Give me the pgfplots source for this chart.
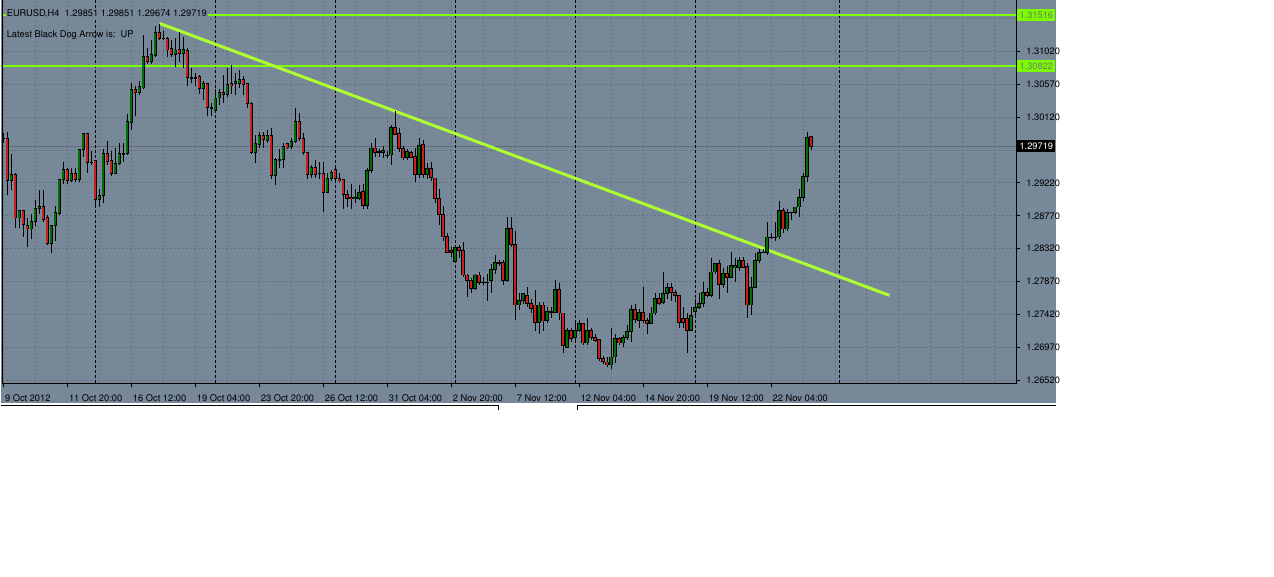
\documentclass[border=0pt]{standalone}
\usepackage[T1]{fontenc}
\usepackage{helvet}
\renewcommand{\familydefault}{\sfdefault}
\usepackage{pgfplots}
\pgfplotsset{compat=1.18}
\usepackage{pgfplotstable}

\definecolor{bgc}{RGB}{119,136,153}
\definecolor{gridc}{RGB}{98,112,127}
\definecolor{bidc}{RGB}{96,106,120}
\definecolor{upc}{RGB}{0,110,0}
\definecolor{dnc}{RGB}{200,30,30}
\definecolor{hlc}{RGB}{124,252,0}
\definecolor{trendc}{RGB}{173,255,47}
\definecolor{tagtext}{RGB}{110,125,105}

\newcommand\tl{\fontsize{9.3}{11}\selectfont}

% EURUSD H4, k = bar index; bull candles (close >= open)
\pgfplotstableread{
k o h l c
0 1.2983 1.2990 1.2976 1.2983
2 1.2925 1.2961 1.2912 1.2934
4 1.2874 1.2884 1.2860 1.2884
7 1.2859 1.2880 1.2846 1.2869
8 1.2869 1.2899 1.2863 1.2887
9 1.2887 1.2913 1.2880 1.2890
12 1.2839 1.2864 1.2826 1.2864
13 1.2864 1.2891 1.2843 1.2882
14 1.2880 1.2927 1.2878 1.2927
15 1.2927 1.2951 1.2921 1.2940
17 1.2925 1.2943 1.2923 1.2935
19 1.2927 1.2969 1.2923 1.2968
20 1.2968 1.2990 1.2957 1.2990
22 1.2950 1.2966 1.2946 1.2950
24 1.2899 1.2914 1.2889 1.2905
25 1.2905 1.2969 1.2895 1.2962
28 1.2935 1.2970 1.2934 1.2949
29 1.2949 1.2976 1.2946 1.2962
30 1.2962 1.2977 1.2951 1.2962
31 1.2962 1.3017 1.2960 1.3006
32 1.3005 1.3059 1.2994 1.3050
34 1.3046 1.3061 1.3042 1.3054
35 1.3052 1.3124 1.3051 1.3095
37 1.3088 1.3117 1.3085 1.3098
38 1.3096 1.3137 1.3094 1.3128
40 1.3120 1.3130 1.3117 1.3120
43 1.3098 1.3120 1.3081 1.3104
45 1.3099 1.3121 1.3079 1.3104
47 1.3066 1.3079 1.3059 1.3066
48 1.3066 1.3073 1.3055 1.3066
50 1.3051 1.3062 1.3035 1.3058
53 1.3021 1.3051 1.3018 1.3038
54 1.3038 1.3051 1.3028 1.3046
56 1.3043 1.3079 1.3039 1.3057
58 1.3058 1.3072 1.3042 1.3061
59 1.3058 1.3076 1.3052 1.3063
63 1.2964 1.2987 1.2950 1.2976
64 1.2975 1.2991 1.2970 1.2987
66 1.2980 1.2994 1.2976 1.2987
68 1.2932 1.2956 1.2919 1.2954
69 1.2954 1.2969 1.2942 1.2954
70 1.2954 1.2976 1.2942 1.2972
72 1.2972 1.2983 1.2968 1.2979
73 1.2979 1.3024 1.2977 1.3006
77 1.2934 1.2946 1.2929 1.2943
79 1.2935 1.2950 1.2928 1.2935
81 1.2909 1.2936 1.2908 1.2928
82 1.2928 1.2939 1.2925 1.2936
88 1.2900 1.2914 1.2895 1.2902
89 1.2901 1.2919 1.2898 1.2909
91 1.2891 1.2943 1.2887 1.2939
92 1.2939 1.2976 1.2936 1.2970
95 1.2964 1.2973 1.2956 1.2966
96 1.2960 1.2966 1.2956 1.2960
97 1.2960 1.3001 1.2946 1.2998
101 1.2957 1.2969 1.2953 1.2965
104 1.2934 1.2983 1.2929 1.2973
106 1.2934 1.2949 1.2928 1.2942
113 1.2815 1.2834 1.2813 1.2834
118 1.2778 1.2798 1.2775 1.2796
120 1.2786 1.2793 1.2782 1.2786
121 1.2786 1.2798 1.2761 1.2786
122 1.2789 1.2811 1.2772 1.2804
123 1.2804 1.2824 1.2798 1.2813
124 1.2813 1.2816 1.2809 1.2813
126 1.2789 1.2875 1.2786 1.2860
129 1.2755 1.2772 1.2748 1.2761
130 1.2761 1.2772 1.2757 1.2771
134 1.2731 1.2759 1.2716 1.2755
136 1.2734 1.2752 1.2731 1.2746
137 1.2746 1.2752 1.2738 1.2746
138 1.2745 1.2789 1.2744 1.2776
141 1.2697 1.2724 1.2696 1.2720
143 1.2711 1.2731 1.2707 1.2720
144 1.2720 1.2734 1.2718 1.2730
146 1.2703 1.2737 1.2700 1.2720
152 1.2673 1.2724 1.2668 1.2684
153 1.2684 1.2716 1.2675 1.2709
155 1.2703 1.2714 1.2697 1.2711
156 1.2711 1.2727 1.2707 1.2719
157 1.2719 1.2755 1.2704 1.2749
159 1.2734 1.2750 1.2724 1.2745
162 1.2730 1.2752 1.2730 1.2744
163 1.2744 1.2772 1.2741 1.2764
165 1.2759 1.2800 1.2757 1.2771
166 1.2771 1.2785 1.2764 1.2779
172 1.2720 1.2752 1.2720 1.2741
173 1.2746 1.2764 1.2737 1.2752
174 1.2752 1.2771 1.2750 1.2757
175 1.2757 1.2786 1.2752 1.2772
177 1.2768 1.2819 1.2766 1.2800
178 1.2800 1.2813 1.2798 1.2812
180 1.2783 1.2806 1.2779 1.2798
182 1.2793 1.2827 1.2792 1.2809
183 1.2806 1.2820 1.2786 1.2809
184 1.2806 1.2820 1.2802 1.2816
187 1.2755 1.2793 1.2741 1.2779
188 1.2779 1.2826 1.2778 1.2816
189 1.2816 1.2832 1.2813 1.2827
190 1.2827 1.2832 1.2826 1.2827
191 1.2827 1.2868 1.2823 1.2848
192 1.2848 1.2853 1.2846 1.2848
193 1.2848 1.2868 1.2843 1.2848
194 1.2848 1.2898 1.2846 1.2884
196 1.2859 1.2887 1.2857 1.2882
197 1.2882 1.2882 1.2871 1.2882
198 1.2882 1.2889 1.2880 1.2889
199 1.2889 1.2914 1.2875 1.2902
200 1.2902 1.2935 1.2898 1.2931
201 1.2931 1.2991 1.2923 1.2984
}\bull

% bear candles (close < open)
\pgfplotstableread{
k o h l c
1 1.2983 1.2991 1.2905 1.2925
3 1.2934 1.2936 1.2860 1.2874
5 1.2884 1.2884 1.2848 1.2865
6 1.2864 1.2874 1.2834 1.2859
10 1.2890 1.2912 1.2868 1.2872
11 1.2875 1.2878 1.2837 1.2839
16 1.2940 1.2942 1.2921 1.2925
18 1.2935 1.2942 1.2923 1.2927
21 1.2990 1.2990 1.2936 1.2950
23 1.2953 1.2953 1.2891 1.2899
26 1.2962 1.2979 1.2946 1.2951
27 1.2953 1.2966 1.2932 1.2935
33 1.3050 1.3055 1.3014 1.3046
36 1.3095 1.3107 1.3085 1.3088
39 1.3128 1.3140 1.3117 1.3120
41 1.3120 1.3121 1.3094 1.3104
42 1.3106 1.3117 1.3094 1.3098
44 1.3104 1.3129 1.3087 1.3099
46 1.3103 1.3106 1.3055 1.3066
49 1.3068 1.3069 1.3044 1.3051
51 1.3058 1.3059 1.3014 1.3025
52 1.3025 1.3032 1.3014 1.3024
55 1.3046 1.3069 1.3031 1.3043
57 1.3058 1.3083 1.3044 1.3055
60 1.3063 1.3069 1.3042 1.3057
61 1.3058 1.3058 1.3024 1.3031
62 1.3031 1.3032 1.2962 1.2964
65 1.2987 1.2991 1.2970 1.2981
67 1.2987 1.2997 1.2928 1.2932
71 1.2976 1.2977 1.2969 1.2970
74 1.3006 1.3018 1.2980 1.2983
75 1.2983 1.2990 1.2960 1.2964
76 1.2964 1.2964 1.2927 1.2934
78 1.2943 1.2953 1.2929 1.2934
80 1.2935 1.2950 1.2882 1.2909
83 1.2940 1.2943 1.2923 1.2928
84 1.2928 1.2935 1.2923 1.2925
85 1.2927 1.2928 1.2887 1.2906
86 1.2906 1.2912 1.2889 1.2901
87 1.2902 1.2921 1.2887 1.2900
90 1.2910 1.2921 1.2887 1.2891
93 1.2970 1.2983 1.2957 1.2964
94 1.2965 1.2969 1.2957 1.2964
98 1.2998 1.3021 1.2987 1.2988
99 1.2990 1.2997 1.2964 1.2969
100 1.2969 1.2973 1.2953 1.2956
102 1.2964 1.2966 1.2956 1.2957
103 1.2958 1.2970 1.2923 1.2934
105 1.2975 1.2981 1.2929 1.2934
107 1.2942 1.2950 1.2925 1.2929
108 1.2929 1.2929 1.2894 1.2901
109 1.2901 1.2914 1.2864 1.2879
110 1.2879 1.2891 1.2843 1.2848
111 1.2849 1.2854 1.2826 1.2827
112 1.2830 1.2834 1.2820 1.2827
114 1.2834 1.2837 1.2819 1.2830
115 1.2830 1.2841 1.2793 1.2796
116 1.2796 1.2798 1.2766 1.2789
117 1.2789 1.2792 1.2772 1.2778
119 1.2796 1.2800 1.2782 1.2786
125 1.2813 1.2816 1.2782 1.2789
127 1.2860 1.2875 1.2834 1.2838
128 1.2838 1.2857 1.2734 1.2755
131 1.2768 1.2779 1.2752 1.2757
132 1.2757 1.2764 1.2744 1.2750
133 1.2755 1.2775 1.2720 1.2731
135 1.2755 1.2759 1.2720 1.2733
139 1.2776 1.2785 1.2734 1.2744
140 1.2744 1.2744 1.2689 1.2700
142 1.2720 1.2724 1.2704 1.2709
145 1.2730 1.2731 1.2700 1.2703
147 1.2720 1.2724 1.2707 1.2711
148 1.2711 1.2716 1.2704 1.2707
149 1.2708 1.2709 1.2679 1.2682
150 1.2682 1.2686 1.2675 1.2678
151 1.2677 1.2684 1.2670 1.2673
154 1.2709 1.2711 1.2700 1.2703
158 1.2749 1.2757 1.2731 1.2735
160 1.2745 1.2779 1.2731 1.2734
161 1.2734 1.2738 1.2716 1.2730
164 1.2764 1.2771 1.2755 1.2757
167 1.2779 1.2785 1.2761 1.2772
168 1.2772 1.2775 1.2759 1.2768
169 1.2768 1.2768 1.2723 1.2731
170 1.2737 1.2752 1.2723 1.2731
171 1.2737 1.2744 1.2689 1.2720
176 1.2772 1.2779 1.2766 1.2768
179 1.2812 1.2816 1.2764 1.2783
181 1.2798 1.2809 1.2772 1.2793
185 1.2816 1.2820 1.2805 1.2806
186 1.2808 1.2812 1.2737 1.2755
195 1.2884 1.2888 1.2854 1.2859
202 1.29851 1.29851 1.29674 1.29719
}\bear

\pgfplotsset{
  % vertical segments drawn as error bars around a centre value
  seg/.style={draw=none, mark=none, forget plot, error bars/.cd, y dir=both, y explicit,
    error mark=none, error bar style={solid, #1}},
}

\begin{document}
\begin{tikzpicture}
\fill[white] (0pt,0pt) rectangle (1274pt,576pt);
\fill[bgc] (0pt,173pt) rectangle (1056pt,576pt);
% tab bar under the chart
\draw[black, line width=1pt] (0pt,170.5pt) -- (498pt,170.5pt) -- (498pt,166pt);
\draw[black, line width=1pt] (577pt,166pt) -- (577pt,170.5pt) -- (1056pt,170.5pt);

\begin{axis}[
    at={(1.5pt,193pt)}, anchor=south west,
    scale only axis, width=1014.5pt, height=383pt,
    xmin=-0.3, xmax=253.3,
    ymin=1.26479, ymax=1.31715,
    clip=false,
    unbounded coords=jump,
    axis line style={draw=none},
    xtick={0,16,...,192},
    xticklabels={9 Oct 2012,11 Oct 20:00,16 Oct 12:00,19 Oct 04:00,23 Oct 20:00,26 Oct 12:00,31 Oct 04:00,2 Nov 20:00,7 Nov 12:00,12 Nov 04:00,14 Nov 20:00,19 Nov 12:00,22 Nov 04:00},
    minor xtick={8,24,40,56,72,88,104,120,136,152,168,184,200,208,216,224,232,240,248},
    ytick={1.2652,1.2697,1.2742,1.2787,1.2832,1.2877,1.2922,1.2967,1.3012,1.3057,1.3102,1.3147},
    yticklabels={1.26520,1.26970,1.27420,1.27870,1.28320,1.28770,1.29220,,1.30120,1.30570,1.31020,},
    xtick pos=bottom, ytick pos=right, yticklabel pos=right,
    tick align=outside, major tick length=4pt, minor tick length=0pt,
    tick style={black, line width=1pt},
    grid=both,
    major grid style={draw=gridc, line width=1pt, dash pattern=on 2pt off 2pt},
    minor grid style={draw=gridc, line width=1pt, dash pattern=on 2pt off 2pt},
    tick label style={font=\tl, text=black},
    xticklabel style={anchor=north west, inner sep=0pt, xshift=1.5pt, yshift=-7pt},
    yticklabel style={anchor=west, inner sep=0pt, xshift=6pt},
]
% bid line
\addplot[draw=bidc, line width=1pt] coordinates {(-0.3,1.29719) (253.3,1.29719)};
% period separators
\pgfplotsinvokeforeach{23,53,83,113,143,173,209}{
  \addplot[draw=black, line width=1pt, dash pattern=on 3pt off 2pt] coordinates {(#1,1.26479) (#1,1.31715)};
}
% horizontal levels and trend line
\addplot[draw=hlc, line width=1.6pt] coordinates {(-0.3,1.31516) (253.3,1.31516) (nan,nan) (-0.3,1.30822) (253.3,1.30822)};
\addplot[draw=trendc, line width=3pt] coordinates {(39.1,1.31401) (221.6,1.27682)};
% wicks
\addplot[seg={draw=black, line width=1pt}]
  table[x=k, y expr={(\thisrow{h}+\thisrow{l})/2}, y error expr={(\thisrow{h}-\thisrow{l})/2}] {\bull};
\addplot[seg={draw=black, line width=1pt}]
  table[x=k, y expr={(\thisrow{h}+\thisrow{l})/2}, y error expr={(\thisrow{h}-\thisrow{l})/2}] {\bear};
% bodies: black outline, then coloured fill
\addplot[seg={draw=black, line width=3.4pt}]
  table[x=k, y expr={(\thisrow{o}+\thisrow{c})/2}, y error expr={abs(\thisrow{c}-\thisrow{o})/2+0.00005}] {\bull};
\addplot[seg={draw=upc, line width=2pt}]
  table[x=k, y expr={(\thisrow{o}+\thisrow{c})/2}, y error expr={max(abs(\thisrow{c}-\thisrow{o})/2-0.00005,0)}] {\bull};
\addplot[seg={draw=black, line width=3.4pt}]
  table[x=k, y expr={(\thisrow{o}+\thisrow{c})/2}, y error expr={abs(\thisrow{c}-\thisrow{o})/2+0.00005}] {\bear};
\addplot[seg={draw=dnc, line width=2pt}]
  table[x=k, y expr={(\thisrow{o}+\thisrow{c})/2}, y error expr={max(abs(\thisrow{c}-\thisrow{o})/2-0.00005,0)}] {\bear};
% frame
\draw[black, line width=1pt] (rel axis cs:0,1) -- (rel axis cs:0,0) -- (rel axis cs:1,0) -- (rel axis cs:1,1);
% price tags
\node[fill=hlc, text=tagtext, font=\tl, inner sep=0pt, minimum width=38pt, minimum height=12pt, anchor=west]
  at (axis cs:253.3,1.31516) [xshift=1pt] {1.31516};
\node[fill=hlc, text=tagtext, font=\tl, inner sep=0pt, minimum width=38pt, minimum height=12pt, anchor=west]
  at (axis cs:253.3,1.30822) [xshift=1pt] {1.30822};
\node[fill=black, text=white, font=\tl, inner sep=0pt, minimum width=38pt, minimum height=12pt, anchor=west]
  at (axis cs:253.3,1.29719) [xshift=1pt] {1.29719};
\end{axis}

\node[anchor=west, fill=bgc, inner sep=1pt, font=\tl] at (5pt,562.7pt)
  {EURUSD,H4\ \ 1.29851 1.29851 1.29674 1.29719};
\node[anchor=west, inner sep=1pt, font=\tl, text=black] at (5pt,541.7pt)
  {Latest Black Dog Arrow is:\ \ UP};
\end{tikzpicture}
\end{document}
